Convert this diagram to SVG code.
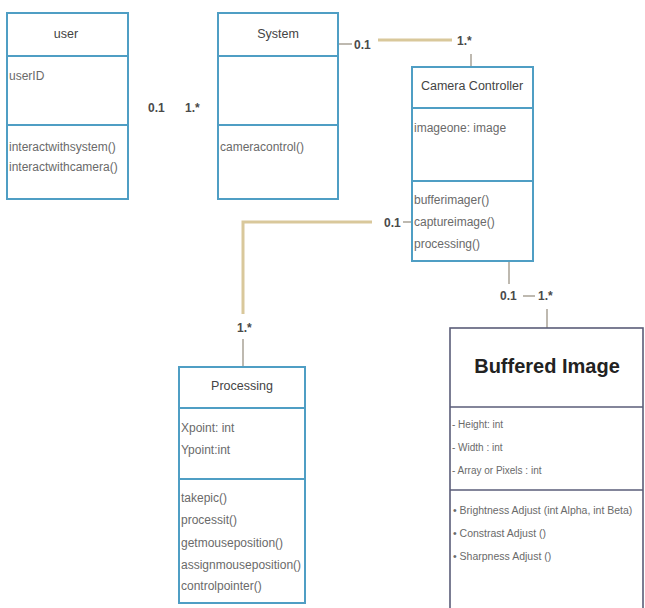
<svg xmlns="http://www.w3.org/2000/svg" width="645" height="608" viewBox="0 0 645 608">
<style>
.box{fill:#ffffff;stroke:#4f9ec4;stroke-width:2}
.div{stroke:#4f9ec4;stroke-width:2}
.bbox{fill:#ffffff;stroke:#5a5d78;stroke-width:1.6}
.bdiv{stroke:#5a5d78;stroke-width:1.6}
.hd{font-family:"Liberation Sans",Arial,sans-serif;font-size:12.5px;fill:#444444;text-anchor:middle}
.mb{font-family:"Liberation Sans",Arial,sans-serif;font-size:12px;fill:#6a6a6a}
.mult{font-family:"Liberation Sans",Arial,sans-serif;font-size:12px;font-weight:bold;fill:#4a4a4a}
.bt{font-family:"Liberation Sans",Arial,sans-serif;font-size:20px;font-weight:bold;fill:#222222;text-anchor:middle}
.bm{font-family:"Liberation Sans",Arial,sans-serif;font-size:10px;fill:#6a6a6a}
.bm2{font-family:"Liberation Sans",Arial,sans-serif;font-size:10.5px;fill:#6a6a6a}
.tan{stroke:#d9c89b;stroke-width:3;fill:none}
.thin{stroke:#a8a296;stroke-width:1.5;fill:none}
</style>
<rect width="645" height="608" fill="#ffffff"/>
<g id="connectors">
  <line class="thin" x1="338" y1="44" x2="352" y2="44"/>
  <line class="tan" x1="378" y1="40" x2="452" y2="40"/>
  <line class="thin" x1="471" y1="54" x2="471" y2="67"/>
  <line class="thin" x1="403" y1="222" x2="412" y2="222"/>
  <polyline class="tan" points="372,222 243,222 243,314"/>
  <line class="thin" x1="243" y1="339" x2="243" y2="367"/>
  <line class="thin" x1="509" y1="262" x2="509" y2="284"/>
  <line class="thin" x1="523" y1="296" x2="535" y2="296"/>
  <line class="thin" x1="547" y1="309" x2="547" y2="328"/>
  <text class="mult" x="148" y="112">0.1</text>
  <text class="mult" x="185" y="112">1.*</text>
  <text class="mult" x="354" y="49">0.1</text>
  <text class="mult" x="457" y="45">1.*</text>
  <text class="mult" x="384" y="227">0.1</text>
  <text class="mult" x="237" y="332">1.*</text>
  <text class="mult" x="500" y="300">0.1</text>
  <text class="mult" x="538" y="300">1.*</text>
</g>
<g id="user">
  <rect class="box" x="7" y="13" width="121" height="186"/>
  <line class="div" x1="7" y1="56" x2="128" y2="56"/>
  <line class="div" x1="7" y1="125" x2="128" y2="125"/>
  <text class="hd" x="66" y="38">user</text>
  <text class="mb" x="9" y="80">userID</text>
  <text class="mb" x="9" y="151">interactwithsystem()</text>
  <text class="mb" x="9" y="171">interactwithcamera()</text>
</g>
<g id="system">
  <rect class="box" x="218" y="13" width="120" height="186"/>
  <line class="div" x1="218" y1="56" x2="338" y2="56"/>
  <line class="div" x1="218" y1="125" x2="338" y2="125"/>
  <text class="hd" x="278" y="38">System</text>
  <text class="mb" x="220" y="151">cameracontrol()</text>
</g>
<g id="camera-controller">
  <rect class="box" x="412" y="67" width="121" height="194"/>
  <line class="div" x1="412" y1="108" x2="533" y2="108"/>
  <line class="div" x1="412" y1="181" x2="533" y2="181"/>
  <text class="hd" x="472" y="90">Camera Controller</text>
  <text class="mb" x="414" y="132">imageone: image</text>
  <text class="mb" x="414" y="204">bufferimager()</text>
  <text class="mb" x="414" y="226">captureimage()</text>
  <text class="mb" x="414" y="248">processing()</text>
</g>
<g id="processing">
  <rect class="box" x="179" y="367" width="126" height="236"/>
  <line class="div" x1="179" y1="408" x2="305" y2="408"/>
  <line class="div" x1="179" y1="479" x2="305" y2="479"/>
  <text class="hd" x="242" y="390">Processing</text>
  <text class="mb" x="181" y="432">Xpoint: int</text>
  <text class="mb" x="181" y="454">Ypoint:int</text>
  <text class="mb" x="181" y="502">takepic()</text>
  <text class="mb" x="181" y="524">processit()</text>
  <text class="mb" x="181" y="547">getmouseposition()</text>
  <text class="mb" x="181" y="569">assignmouseposition()</text>
  <text class="mb" x="181" y="590">controlpointer()</text>
</g>
<g id="buffered-image">
  <rect class="bbox" x="450" y="328" width="193" height="292"/>
  <line class="bdiv" x1="450" y1="407" x2="643" y2="407"/>
  <line class="bdiv" x1="450" y1="490" x2="643" y2="490"/>
  <text class="bt" x="547" y="373">Buffered Image</text>
  <text class="bm" x="452" y="428">- Height: int</text>
  <text class="bm" x="452" y="451">- Width : int</text>
  <text class="bm" x="452" y="474">- Array or Pixels : int</text>
  <text class="bm2" x="453" y="514">•  Brightness Adjust (int Alpha, int Beta)</text>
  <text class="bm2" x="453" y="537">• Constrast Adjust ()</text>
  <text class="bm2" x="453" y="560">•  Sharpness Adjust ()</text>
</g>
</svg>
